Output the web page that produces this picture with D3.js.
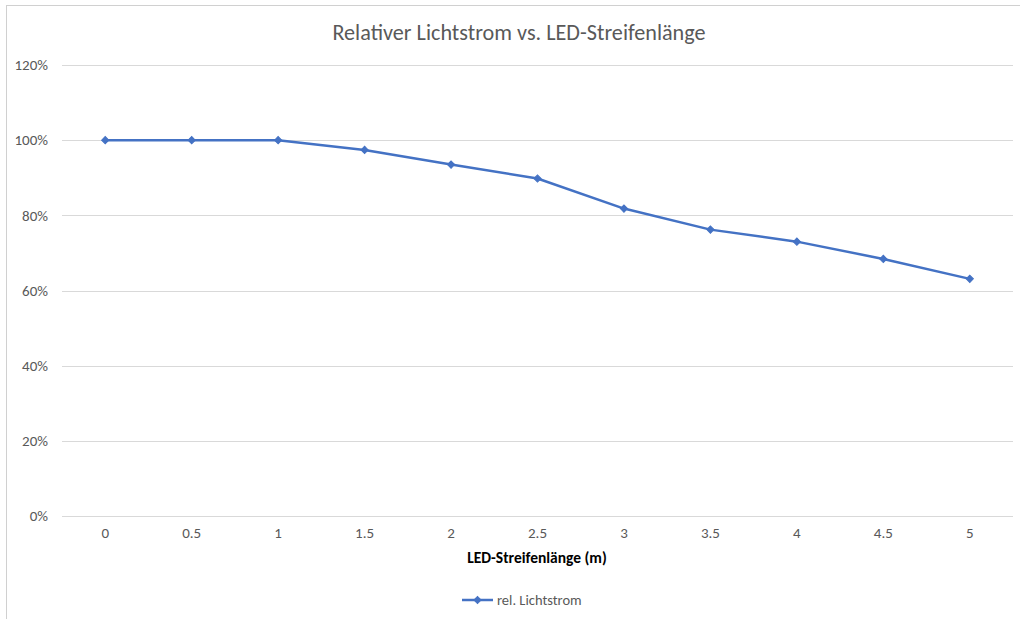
<!DOCTYPE html>
<html><head><meta charset="utf-8">
<script src="https://cdn.jsdelivr.net/npm/d3@7"></script>
<style>body{margin:0;background:#fff;} svg{display:block;}</style>
</head><body>
<svg id="c" width="1020" height="619"></svg>
<script>
const categories = ["0","0.5","1","1.5","2","2.5","3","3.5","4","4.5","5"];
const values = [1.00, 1.00, 1.00, 0.974, 0.935, 0.898, 0.818, 0.762, 0.730, 0.684, 0.631];
const yTicks = [0, 0.2, 0.4, 0.6, 0.8, 1.0, 1.2];
const title = "Relativer Lichtstrom vs. LED-Streifenlänge";
const xTitle = "LED-Streifenlänge (m)";
const seriesName = "rel. Lichtstrom";

const svg = d3.select("#c");
const font = "Carlito, Calibri, 'Open Sans', sans-serif";
// chart border
svg.append("rect").attr("x",6.5).attr("y",5.5).attr("width",1100).attr("height",700)
  .attr("fill","none").attr("stroke","#d0d0d0").attr("stroke-width",1);

const x = d3.scaleBand().domain(categories).range([62,1013]);
const y = d3.scaleLinear().domain([0,1.2]).range([516,65]);

// gridlines
svg.append("g").selectAll("line").data(yTicks).join("line")
  .attr("x1",62).attr("x2",1013)
  .attr("y1",d=>Math.round(y(d))+0.5).attr("y2",d=>Math.round(y(d))+0.5)
  .attr("stroke","#d9d9d9").attr("stroke-width",1);

// y axis labels
const yAxis = d3.axisLeft(y).tickValues(yTicks).tickFormat(d3.format(".0%")).tickSize(0).tickPadding(0);
const gy = svg.append("g").attr("transform","translate(48,0)").call(yAxis);
gy.select(".domain").remove();
gy.selectAll("text").attr("font-family",font).attr("font-size",15).attr("fill","#595959");

// x axis labels
const xAxis = d3.axisBottom(x).tickSize(0).tickPadding(0);
const gx = svg.append("g").attr("transform","translate(0,527)").call(xAxis);
gx.select(".domain").remove();
gx.selectAll("text").attr("font-family",font).attr("font-size",15).attr("fill","#595959");

// title
svg.append("text").attr("x",519).attr("y",40).attr("text-anchor","middle")
  .attr("font-family",font).attr("font-size",22.2).attr("fill","#595959").text(title);

// x title
svg.append("text").attr("x",537).attr("y",563).attr("text-anchor","middle")
  .attr("font-family",font).attr("font-size",15.5).attr("font-weight","bold").attr("fill","#000").text(xTitle);

const color = "#4472C4";
const line = d3.line().x((d,i)=>x(categories[i])+x.bandwidth()/2).y(d=>y(d));
svg.append("path").datum(values).attr("d",line).attr("fill","none")
  .attr("stroke",color).attr("stroke-width",2.5).attr("stroke-linejoin","round");
const diamond = d3.symbol().type(d3.symbolSquare).size(26);
svg.append("g").selectAll("path").data(values).join("path")
  .attr("d",diamond)
  .attr("transform",(d,i)=>`translate(${x(categories[i])+x.bandwidth()/2},${y(d)}) rotate(45)`)
  .attr("fill",color).attr("stroke",color).attr("stroke-width",1);

// legend
const lg = svg.append("g");
lg.append("line").attr("x1",462).attr("x2",493).attr("y1",600).attr("y2",600)
  .attr("stroke",color).attr("stroke-width",2.5);
lg.append("path").attr("d",diamond).attr("transform","translate(477.5,600) rotate(45)").attr("fill",color).attr("stroke",color);
lg.append("text").attr("x",497).attr("y",605).attr("font-family",font).attr("font-size",14.5)
  .attr("fill","#595959").text(seriesName);
</script>
</body></html>
